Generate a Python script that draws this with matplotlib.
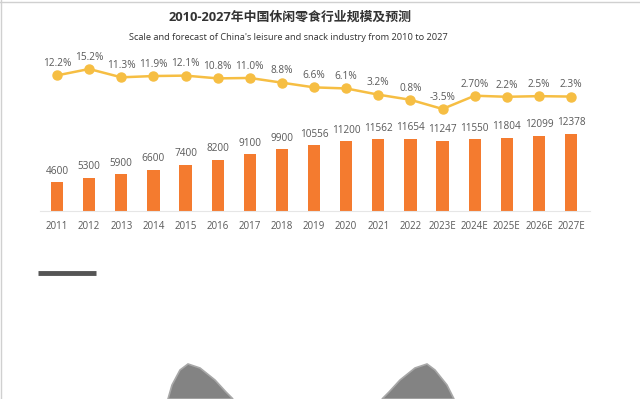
import matplotlib
matplotlib.use("Agg")
import numpy as np
from matplotlib import pyplot as plt
from matplotlib.patches import Polygon

plt.rcParams['font.family'] = ['Open Sans', 'Noto Sans CJK SC', 'DejaVu Sans']

# data
years = ['2011', '2012', '2013', '2014', '2015', '2016', '2017', '2018', '2019',
         '2020', '2021', '2022', '2023E', '2024E', '2025E', '2026E', '2027E']
scale = [4600, 5300, 5900, 6600, 7400, 8200, 9100, 9900, 10556,
         11200, 11562, 11654, 11247, 11550, 11804, 12099, 12378]
growth = [12.2, 15.2, 11.3, 11.9, 12.1, 10.8, 11.0, 8.8, 6.6,
          6.1, 3.2, 0.8, -3.5, 2.7, 2.2, 2.5, 2.3]
growth_labels = ['12.2%', '15.2%', '11.3%', '11.9%', '12.1%', '10.8%', '11.0%', '8.8%', '6.6%',
                 '6.1%', '3.2%', '0.8%', '-3.5%', '2.70%', '2.2%', '2.5%', '2.3%']

title = '2010-2027年中国休闲零食行业规模及预测'
subtitle = "Scale and forecast of China's leisure and snack industry from 2010 to 2027"

bar_color = '#F47B2F'
line_color = '#F6BE43'
text_color = '#595959'

W, H = 640, 399
fig = plt.figure(figsize=(W / 100, H / 100), dpi=100)
fig.patch.set_facecolor('white')

# axes in pixel terms: left 40, right 590, top 40, bottom 211
ax = fig.add_axes([40 / W, (H - 211) / H, 550 / W, 171 / H])
x = np.arange(len(years))

ax.bar(x, scale, width=0.38, color=bar_color, zorder=2)
ax.set_ylim(0, 27500)
ax.set_xlim(-0.53, 16.59)
for xi, v in zip(x, scale):
    ax.text(xi, v + 900, str(v), ha='center', va='bottom', fontsize=7.2, color=text_color)

ax.set_xticks(x)
ax.set_xticklabels(years, fontsize=7, color=text_color)
ax.tick_params(axis='x', length=0, pad=7)
ax.set_yticks([])
for s in ['top', 'right', 'left']:
    ax.spines[s].set_visible(False)
ax.spines['bottom'].set_color('#e6e6e6')
ax.spines['bottom'].set_linewidth(0.8)

# growth rate line on its own scale, sitting above the bars
ax2 = ax.twinx()
ax2.plot(x, growth, color=line_color, lw=1.8, marker='o', markersize=6.5,
         markerfacecolor=line_color, markeredgecolor=line_color, zorder=3)
ax2.set_ylim(-51.2, 28.75)
ax2.set_yticks([])
for s in ['top', 'right', 'left', 'bottom']:
    ax2.spines[s].set_visible(False)
for xi, v, lab in zip(x, growth, growth_labels):
    ax2.text(xi, v + 2.9, lab, ha='center', va='bottom', fontsize=7.3, color=text_color)

# titles
fig.text(290 / W, 1 - 17 / H, title, ha='center', va='center', fontsize=9.3,
         fontweight='bold', color='#333333', family=['Open Sans', 'Noto Sans CJK SC'])
fig.text(288 / W, 1 - 37 / H, subtitle, ha='center', va='center', fontsize=6.7, color='#333333')

# screenshot leftovers: frame, dark dash, grey shapes at the bottom
fig.add_artist(plt.Line2D([0, 1], [1 - 1.5 / H, 1 - 1.5 / H], color='#d0d0d0', lw=1))
fig.add_artist(plt.Line2D([1 / W, 1 / W], [0, 1], color='#d0d0d0', lw=1))
fig.add_artist(plt.Line2D([38 / W, 96 / W], [1 - 273 / H, 1 - 273 / H], color='#555555', lw=3.5,
                          solid_capstyle='butt'))
ears = [
    [(168, 399), (172, 385), (180, 370), (188, 364), (200, 368), (215, 380), (226, 392), (233, 399)],
    [(382, 399), (389, 392), (400, 380), (415, 368), (427, 364), (435, 370), (447, 385), (454, 399)],
]
for pts in ears:
    fig.add_artist(Polygon([(px / W, 1 - py / H) for px, py in pts], closed=True,
                           facecolor='#838383', edgecolor='#a8a8a8', lw=1.2,
                           transform=fig.transFigure))

fig.savefig('out.png', dpi=100)
